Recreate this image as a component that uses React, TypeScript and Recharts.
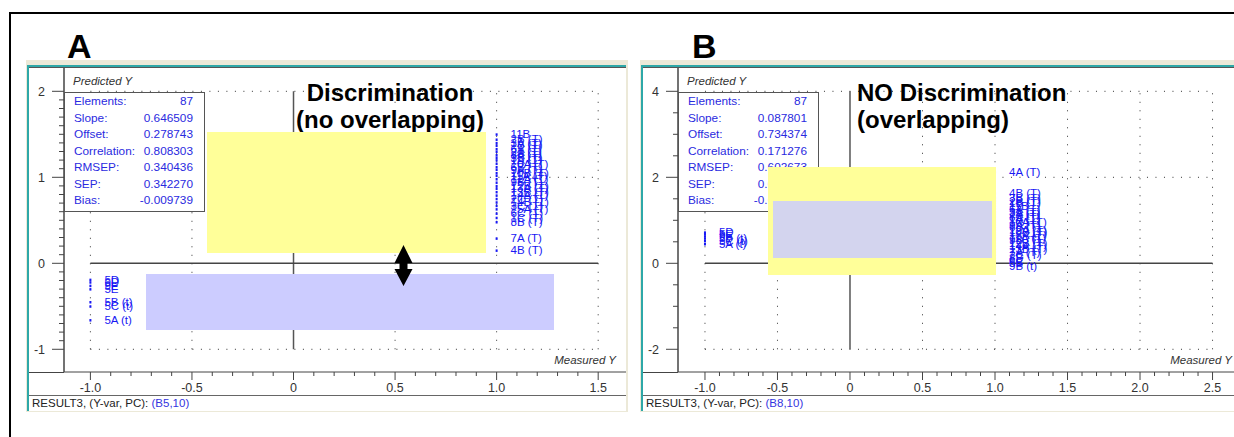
import React from 'react'
import { ScatterChart, Scatter, XAxis, YAxis, ReferenceLine } from 'recharts'

const FONT = '"Liberation Sans", Arial, sans-serif'
const BLUE = '#1818f4'
const STAT_BLUE = '#2a2ae0'
const AXIS = '#444'

// statistics table
const statLabels = ['Elements:', 'Slope:', 'Offset:', 'Correlation:', 'RMSEP:', 'SEP:', 'Bias:']
const statsA = ['87', '0.646509', '0.278743', '0.808303', '0.340436', '0.342270', '-0.009739']
const statsB = ['87', '0.087801', '0.734374', '0.171276', '0.602673', '0.605814', '-0.004127']

const aNegNames = ['5D', '6D', '9E', '5E', '5B (t)', '5C (t)', '5A (t)']
const aNegPred = [-0.19, -0.22, -0.26, -0.3, -0.45, -0.5, -0.66]
const aPosNames = [
  '11B', '2B (T)', '3A (T)', '1B (T)', '6A (T)', '2A (T)', '8A (T)', '3B (T)', '1A (T)', '10A (T)',
  '6B (T)', '9A (T)', '10B (T)', '11A (T)', '12A (T)', '9B (T)', '12B (T)', '13A (T)', '13B (T)', '14A (T)',
  '2C (T)', '14B (T)', '3C (T)', '15A (T)', '6C (T)', '1C (T)', '8B (T)', '7A (T)', '4B (T)',
]
const aPosPred = [
  1.5, 1.44, 1.4, 1.37, 1.33, 1.3, 1.26, 1.23, 1.2, 1.16,
  1.12, 1.09, 1.05, 1.02, 0.98, 0.94, 0.9, 0.87, 0.83, 0.79,
  0.75, 0.71, 0.67, 0.63, 0.58, 0.53, 0.48, 0.29, 0.15,
]

// panel B
const bNegNames = ['5D', '5E', '9E', '5B (t)', '5C (t)', '5A (t)']
const bNegPred = [0.72, 0.68, 0.63, 0.58, 0.52, 0.45]
const bPosNames = [
  '4A (T)', '4B (T)', '3B (T)', '2B (T)', '1B (T)', '11B', '6A (T)', '3A (T)', '2A (T)', '8A (T)',
  '1A (T)', '10A (T)', '9A (T)', '6B (T)', '12A (T)', '10B (T)', '13A (T)', '11A (T)', '9B (T)', '12B (T)',
  '14A (T)', '13B (T)', '7A (T)', '2C (T)', '8B', '6C', '5B', '9B (t)',
]
const bPosPred = [
  2.12, 1.63, 1.53, 1.46, 1.4, 1.33, 1.27, 1.2, 1.14, 1.08,
  1.02, 0.96, 0.9, 0.84, 0.78, 0.72, 0.66, 0.6, 0.54, 0.47,
  0.4, 0.33, 0.26, 0.19, 0.12, 0.06, 0.0, -0.06,
]

// axis ticks
const aXTicks = [-1, -0.9, -0.8, -0.7, -0.6, -0.5, -0.4, -0.3, -0.2, -0.1, 0, 0.1, 0.2, 0.3, 0.4, 0.5, 0.6, 0.7, 0.8, 0.9, 1, 1.1, 1.2, 1.3, 1.4, 1.5]
const aYTicks = [-1, -0.9, -0.8, -0.7, -0.6, -0.5, -0.4, -0.3, -0.2, -0.1, 0, 0.1, 0.2, 0.3, 0.4, 0.5, 0.6, 0.7, 0.8, 0.9, 1, 1.1, 1.2, 1.3, 1.4, 1.5, 1.6, 1.7, 1.8, 1.9, 2]
const bXTicks = [-1, -0.9, -0.8, -0.7, -0.6, -0.5, -0.4, -0.3, -0.2, -0.1, 0, 0.1, 0.2, 0.3, 0.4, 0.5, 0.6, 0.7, 0.8, 0.9, 1, 1.1, 1.2, 1.3, 1.4, 1.5, 1.6, 1.7, 1.8, 1.9, 2, 2.1, 2.2, 2.3, 2.4, 2.5]
const bYTicks = [-2, -1.5, -1, -0.5, 0, 0.5, 1, 1.5, 2, 2.5, 3, 3.5, 4]

// dotted grid positions
const aGridX = [-1, -0.5, 0.5, 1, 1.5]
const aGridY = [2, 1, -1]
const bGridX = [-1, -0.5, 0.5, 1, 1.5, 2, 2.5]
const bGridY = [4, 2, -2]

type Pt = { x: number; y: number; name: string }
const toPoints = (measured: number, names: string[], pred: number[]): Pt[] =>
  names.map((name, i) => ({ x: measured, y: pred[i], name }))

const isMultiple = (v: number, step: number) => Math.abs(v / step - Math.round(v / step)) < 1e-6

const SampleMark = (props: any) => {
  const { cx, cy, payload } = props
  if (cx == null || cy == null) return null
  return (
    <g>
      <rect x={cx - 1} y={cy - 1} width={2} height={2.5} fill={BLUE} />
      <text x={cx + 14} y={cy + 4} fontSize={11.5} fontFamily={FONT} fill={BLUE}>{payload.name}</text>
    </g>
  )
}

type PanelProps = {
  winLeft: number
  winRight: number
  plotRight: number
  axisX: number
  xDomain: [number, number]
  yDomain: [number, number]
  xTicks: number[]
  yTicks: number[]
  xMajor: number
  yMajor: number
  gridX: number[]
  gridY: number[]
  xSpan: [number, number]
  ySpan: [number, number]
  neg: Pt[]
  pos: Pt[]
  stats: string[]
  statusRef: string
  measuredRight: number
}

const Panel = (p: PanelProps) => {
  const chartLeft = p.axisX - 35
  const chartWidth = p.plotRight - chartLeft
  const yTick = (props: any) => {
    const { x, y, payload } = props
    const major = isMultiple(payload.value, p.yMajor)
    return (
      <g>
        <line x1={x - (major ? 12 : 5)} x2={x} y1={y} y2={y} stroke={AXIS} />
        {major && (
          <text x={x - 19} y={y + 4.5} textAnchor="end" fontSize={12.5} fontFamily={FONT} fill="#333">
            {String(payload.value)}
          </text>
        )}
      </g>
    )
  }
  const xTick = (props: any) => {
    const { x, y, payload } = props
    const major = isMultiple(payload.value, p.xMajor)
    return (
      <g>
        <line x1={x} x2={x} y1={y} y2={y + (major ? 8 : 4)} stroke={AXIS} />
        {major && (
          <text x={x} y={y + 19.5} textAnchor="middle" fontSize={12.5} fontFamily={FONT} fill="#333">
            {payload.value === 0 ? '0' : payload.value.toFixed(1)}
          </text>
        )}
      </g>
    )
  }
  const w = p.winRight - p.winLeft
  return (
    <>
      {/* window frame */}
      <div style={{ position: 'absolute', left: p.winLeft, top: 60, width: w, height: 352, background: '#ece9d8' }} />
      <div style={{ position: 'absolute', left: p.winLeft + 1, top: 65, width: w - 3, height: 346, background: '#2ea8a8' }} />
      <div style={{ position: 'absolute', left: p.winLeft + 3, top: 67, width: w - 5, height: 344, background: '#fff' }} />
      <div style={{ position: 'absolute', left: p.winLeft + 3, top: 67, width: w - 5, height: 1, background: '#555' }} />
      <div style={{ position: 'absolute', left: chartLeft, top: 68 }}>
        <ScatterChart width={chartWidth} height={344} margin={{ top: 0, right: 0, bottom: 0, left: 0 }}>
          <XAxis
            type="number"
            dataKey="x"
            domain={p.xDomain}
            allowDataOverflow
            ticks={p.xTicks}
            interval={0}
            tickSize={0}
            tickMargin={0}
            height={40}
            axisLine={{ stroke: AXIS }}
            tickLine={false}
            tick={xTick}
          />
          <YAxis
            type="number"
            dataKey="y"
            domain={p.yDomain}
            allowDataOverflow
            ticks={p.yTicks}
            interval={0}
            tickSize={0}
            tickMargin={0}
            width={35}
            axisLine={{ stroke: AXIS, strokeWidth: 1.5 }}
            tickLine={false}
            tick={yTick}
          />
          {p.gridX.map((gx) => (
            <ReferenceLine
              key={'gx' + gx}
              segment={[{ x: gx, y: p.ySpan[0] }, { x: gx, y: p.ySpan[1] }]}
              stroke="#333"
              strokeDasharray="1 7.5"
            />
          ))}
          {p.gridY.map((gy) => (
            <ReferenceLine
              key={'gy' + gy}
              segment={[{ x: p.xSpan[0], y: gy }, { x: p.xSpan[1], y: gy }]}
              stroke="#333"
              strokeDasharray="1 7.5"
            />
          ))}
          <ReferenceLine segment={[{ x: 0, y: p.ySpan[0] }, { x: 0, y: p.ySpan[1] }]} stroke="#555" strokeWidth={1.5} />
          <ReferenceLine segment={[{ x: p.xSpan[0], y: 0 }, { x: p.xSpan[1], y: 0 }]} stroke="#444" strokeWidth={1.5} />
          <Scatter data={p.neg} isAnimationActive={false} shape={SampleMark} />
          <Scatter data={p.pos} isAnimationActive={false} shape={SampleMark} />
        </ScatterChart>
      </div>
      {/* x ruler extension and status bar */}
      <div style={{ position: 'absolute', left: p.winLeft + 3, top: 371.5, width: p.axisX - p.winLeft - 3, height: 1, background: AXIS }} />
      <div style={{ position: 'absolute', left: p.winLeft + 3, top: 394.5, width: w - 5, height: 1.5, background: '#666' }} />
      <div style={{ position: 'absolute', left: p.winLeft + 6, top: 396, lineHeight: '15px', fontSize: 11.5, fontFamily: FONT, color: '#222', whiteSpace: 'nowrap' }}>
        RESULT3, (Y-var, PC): <span style={{ color: '#3434e0' }}>{p.statusRef}</span>
      </div>
      {/* axis titles */}
      <div style={{ position: 'absolute', left: p.axisX + 9, top: 74, lineHeight: '14px', fontSize: 11.5, fontStyle: 'italic', fontFamily: FONT, color: '#333' }}>
        Predicted Y
      </div>
      <div style={{ position: 'absolute', left: p.measuredRight - 80, width: 80, top: 353, lineHeight: '14px', fontSize: 11.5, fontStyle: 'italic', fontFamily: FONT, color: '#333', textAlign: 'right', whiteSpace: 'nowrap' }}>
        Measured Y
      </div>
      {/* statistics box */}
      <div style={{ position: 'absolute', left: p.axisX, top: 92, width: 141, height: 120, boxSizing: 'border-box', border: '1px solid #555', background: '#fff' }}>
        {statLabels.map((lab, i) => (
          <div key={lab} style={{ position: 'absolute', left: 9, right: 11, top: i * 16.5, lineHeight: '16px', fontSize: 11.8, fontFamily: FONT, color: STAT_BLUE }}>
            <span>{lab}</span>
            <span style={{ position: 'absolute', right: 0 }}>{p.stats[i]}</span>
          </div>
        ))}
      </div>
    </>
  )
}

const titleStyle: React.CSSProperties = {
  position: 'absolute',
  top: 78.6,
  fontSize: 24,
  fontWeight: 'bold',
  lineHeight: '27.5px',
  fontFamily: FONT,
  color: '#000',
  whiteSpace: 'nowrap',
}

export default function App() {
  return (
    <div style={{ position: 'absolute', left: 0, top: 0, width: 1234, height: 437, background: '#fff', overflow: 'hidden' }}>
      {/* outer frame */}
      <div style={{ position: 'absolute', left: 9, top: 12, width: 1225, height: 2, background: '#000' }} />
      <div style={{ position: 'absolute', left: 9, top: 12, width: 2, height: 425, background: '#000' }} />

      <Panel
        winLeft={26}
        winRight={628}
        plotRight={626}
        axisX={64}
        xDomain={[-1.13, 1.637]}
        yDomain={[-1.264, 2.271]}
        xTicks={aXTicks}
        yTicks={aYTicks}
        xMajor={0.5}
        yMajor={1}
        gridX={aGridX}
        gridY={aGridY}
        xSpan={[-1, 1.5]}
        ySpan={[-1, 2]}
        neg={toPoints(-1, aNegNames, aNegPred)}
        pos={toPoints(1, aPosNames, aPosPred)}
        stats={statsA}
        statusRef="(B5,10)"
        measuredRight={616}
      />
      <Panel
        winLeft={640}
        winRight={1236}
        plotRight={1234}
        axisX={678}
        xDomain={[-1.186, 2.648]}
        yDomain={[-2.528, 4.542]}
        xTicks={bXTicks}
        yTicks={bYTicks}
        xMajor={0.5}
        yMajor={2}
        gridX={bGridX}
        gridY={bGridY}
        xSpan={[-1, 2.5]}
        ySpan={[-2, 4]}
        neg={toPoints(-1, bNegNames, bNegPred)}
        pos={toPoints(1, bPosNames, bPosPred)}
        stats={statsB}
        statusRef="(B8,10)"
        measuredRight={1232}
      />

      {/* panel letters */}
      <div style={{ position: 'absolute', left: 67, top: 29, fontSize: 34, lineHeight: '34px', fontWeight: 'bold', fontFamily: FONT }}>A</div>
      <div style={{ position: 'absolute', left: 692, top: 29, fontSize: 34, lineHeight: '34px', fontWeight: 'bold', fontFamily: FONT }}>B</div>

      {/* panel A annotations */}
      <div style={{ ...titleStyle, left: 286, width: 208, textAlign: 'center' }}>
        Discrimination<br />(no overlapping)
      </div>
      <div style={{ position: 'absolute', left: 207, top: 132, width: 279, height: 121, background: '#ffff99' }} />
      <div style={{ position: 'absolute', left: 146, top: 274, width: 408, height: 56, background: '#ccccff' }} />
      <svg style={{ position: 'absolute', left: 0, top: 0 }} width={1234} height={437} pointerEvents="none">
        <polygon
          points="403.5,245 412.5,263 407.5,263 407.5,269 412.5,269 403.5,286 394.5,269 399.5,269 399.5,263 394.5,263"
          fill="#000"
        />
      </svg>

      {/* panel B annotations */}
      <div style={{ ...titleStyle, left: 857 }}>
        NO Discrimination<br />(overlapping)
      </div>
      <div style={{ position: 'absolute', left: 768, top: 167, width: 228, height: 108, background: '#ffff99' }} />
      <div style={{ position: 'absolute', left: 773, top: 201, width: 219, height: 57, background: '#d3d4ee' }} />
    </div>
  )
}
